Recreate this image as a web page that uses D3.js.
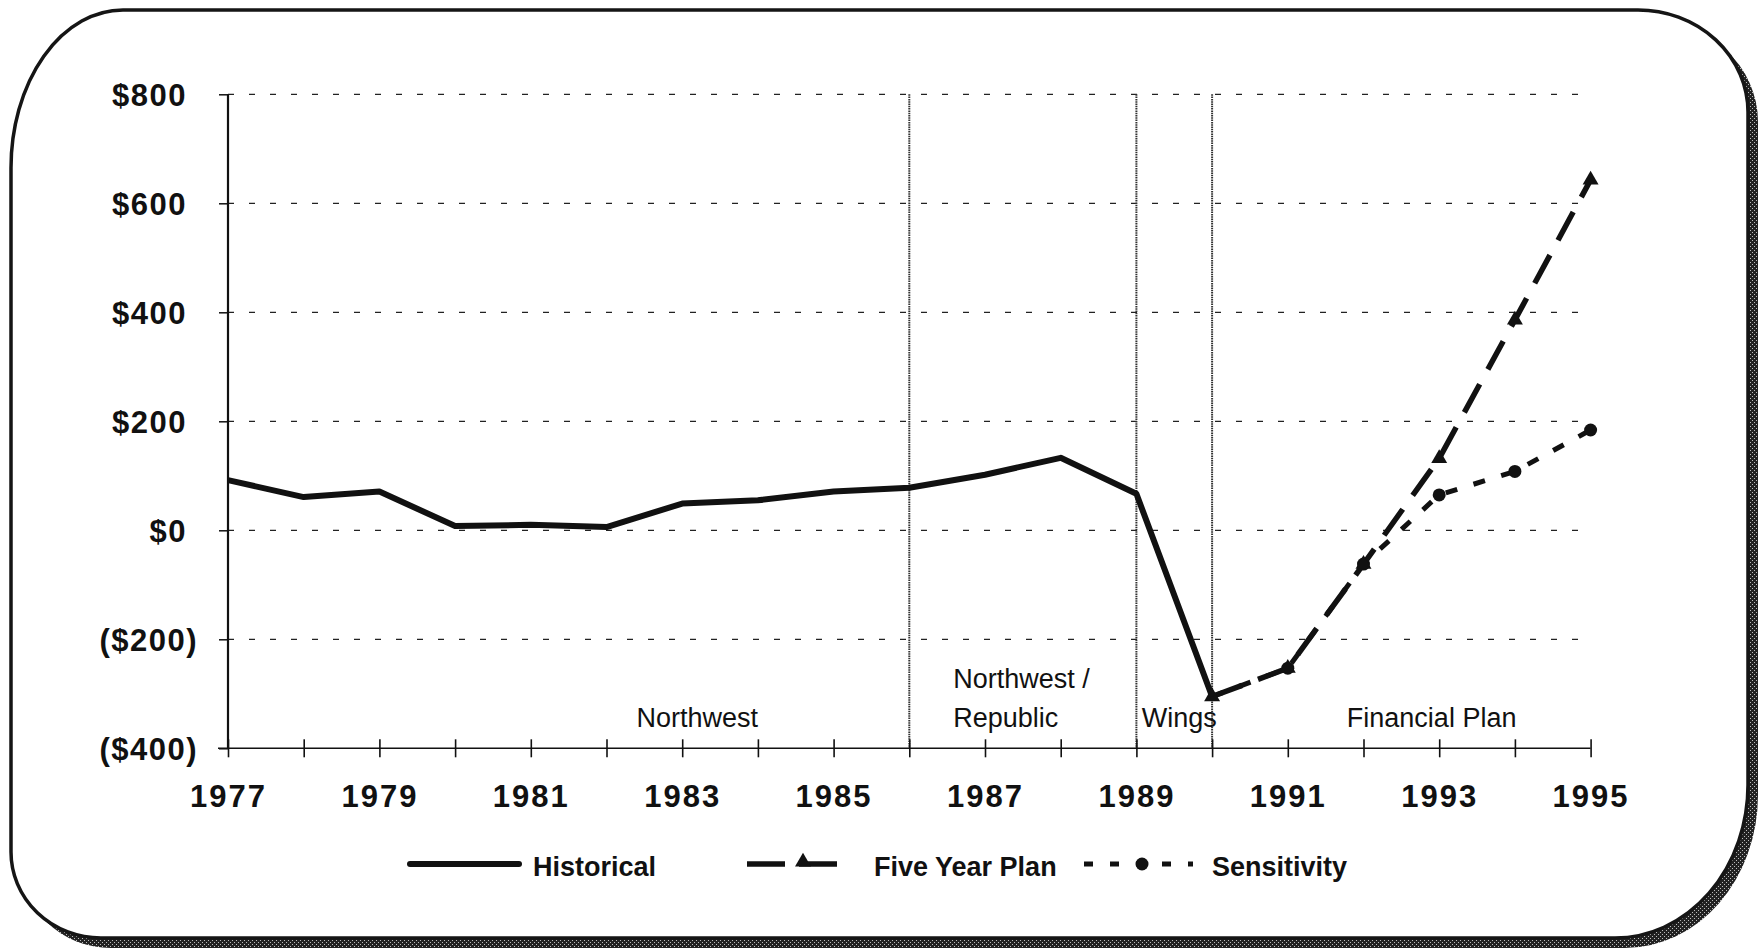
<!DOCTYPE html>
<html>
<head>
<meta charset="utf-8">
<script src="https://cdn.jsdelivr.net/npm/d3@7"></script>
<style>
  body { margin: 0; background: #fff; }
  svg { display: block; font-family: "Liberation Sans", Arial, sans-serif; }
</style>
</head>
<body>
<svg></svg>
<script>
const width = 1759;
const height = 948;

// data (millions of dollars)
const years = [1977, 1978, 1979, 1980, 1981, 1982, 1983, 1984, 1985, 1986, 1987, 1988, 1989, 1990, 1991, 1992, 1993, 1994, 1995];
const yearLabels = [1977, 1979, 1981, 1983, 1985, 1987, 1989, 1991, 1993, 1995];
const yTicks = [-400, -200, 0, 200, 400, 600, 800];

const historicalYears = [1977, 1978, 1979, 1980, 1981, 1982, 1983, 1984, 1985, 1986, 1987, 1988, 1989, 1990];
const historical = [92, 61, 71, 8, 10, 6, 49, 55, 71, 78, 102, 133, 67, -305];

const planYears = [1990, 1991, 1992, 1993, 1994, 1995];
const fiveYearPlan = [-305, -253, -62, 132, 386, 643];
const sensitivity = [-305, -253, -62, 65, 108, 184];

// ownership periods: separators and labels
const separators = [1986, 1989, 1990];
const periods = [
  { lines: ["Northwest"], year: 1983.2, anchor: "middle" },
  { lines: ["Northwest /", "Republic"], year: 1986.58, anchor: "start" },
  { lines: ["Wings"], year: 1989.07, anchor: "start" },
  { lines: ["Financial Plan"], year: 1992.9, anchor: "middle" }
];

const svg = d3.select("svg")
    .attr("width", width)
    .attr("height", height);

// frame with hatched drop shadow
const defs = svg.append("defs");
const pat = defs.append("pattern")
    .attr("id", "hatch")
    .attr("width", 4)
    .attr("height", 4)
    .attr("patternUnits", "userSpaceOnUse");
pat.append("rect").attr("width", 4).attr("height", 4).attr("fill", "#222");
pat.append("rect").attr("x", 0).attr("y", 0).attr("width", 1).attr("height", 1).attr("fill", "#bbb");
pat.append("rect").attr("x", 2).attr("y", 2).attr("width", 1).attr("height", 1).attr("fill", "#bbb");

function framePath(x0, y0, x1, y1) {
  const tl = [112, 158], tr = [110, 102], br = [133, 153], bl = [90, 86];
  return `M${x0 + tl[0]},${y0} H${x1 - tr[0]} A${tr[0]},${tr[1]} 0 0 1 ${x1},${y0 + tr[1]}`
    + ` V${y1 - br[1]} A${br[0]},${br[1]} 0 0 1 ${x1 - br[0]},${y1}`
    + ` H${x0 + bl[0]} A${bl[0]},${bl[1]} 0 0 1 ${x0},${y1 - bl[1]}`
    + ` V${y0 + tl[1]} A${tl[0]},${tl[1]} 0 0 1 ${x0 + tl[0]},${y0} Z`;
}

svg.append("path")
    .attr("d", framePath(11, 10, 1748, 938))
    .attr("transform", "translate(10, 10)")
    .attr("fill", "url(#hatch)");

svg.append("path")
    .attr("d", framePath(11, 10, 1748, 938))
    .attr("fill", "#fff")
    .attr("stroke", "#151515")
    .attr("stroke-width", 3.5);

const x = d3.scaleLinear()
    .domain([1977, 1995])
    .range([228, 1590.6]);

const y = d3.scaleLinear()
    .domain([-400, 800])
    .range([748.3, 94.3]);

// horizontal dashed grid
svg.append("g")
    .selectAll("line")
    .data(yTicks.filter(d => d > -400))
    .join("line")
    .attr("x1", x(1977))
    .attr("x2", x(1995))
    .attr("y1", d => y(d))
    .attr("y2", d => y(d))
    .attr("stroke", "#222")
    .attr("stroke-width", 1.3)
    .attr("stroke-dasharray", "6,15");

// period separators
svg.append("g")
    .selectAll("line")
    .data(separators)
    .join("line")
    .attr("x1", d => x(d))
    .attr("x2", d => x(d))
    .attr("y1", y(800))
    .attr("y2", y(-400))
    .attr("stroke", "#333")
    .attr("stroke-width", 2)
    .attr("stroke-dasharray", "1.5,0.8");

// y axis
const fmt = v => v < 0 ? `($${-v})` : `$${v}`;
const yAxis = d3.axisLeft(y)
    .tickValues(yTicks)
    .tickSize(9)
    .tickFormat(fmt);

const gy = svg.append("g")
    .attr("transform", `translate(${x(1977)}, 0)`)
    .call(yAxis);
gy.select(".domain").attr("stroke", "#111").attr("stroke-width", 2.2).attr("d", `M0,${y(800)}V${y(-400)}`);
gy.selectAll(".tick line").attr("stroke", "#111").attr("stroke-width", 1.5);
gy.selectAll(".tick text")
    .attr("x", d => d < 0 ? -30 : -41)
    .attr("dy", "0.36em")
    .attr("font-size", 31)
    .attr("font-weight", "bold")
    .attr("letter-spacing", 1.5)
    .attr("fill", "#111");

// x axis
const xAxis = d3.axisBottom(x)
    .tickValues(years)
    .tickSize(9)
    .tickFormat(d => yearLabels.includes(d) ? d : "");

const gx = svg.append("g")
    .attr("transform", `translate(0, ${y(-400)})`)
    .call(xAxis);
gx.select(".domain").attr("stroke", "#111").attr("stroke-width", 1.6).attr("d", `M${x(1977) - 10},0H${x(1995)}`);
gx.selectAll(".tick line").attr("y1", -9).attr("y2", 9).attr("stroke", "#111").attr("stroke-width", 1.6);
gx.selectAll(".tick text")
    .attr("y", 59)
    .attr("dy", 0)
    .attr("font-size", 31)
    .attr("font-weight", "bold")
    .attr("letter-spacing", 2)
    .attr("fill", "#111");

// period labels
const pl = svg.append("g")
    .selectAll("text")
    .data(periods)
    .join("text")
    .attr("x", d => x(d.year))
    .attr("text-anchor", d => d.anchor)
    .attr("font-size", 27)
    .attr("fill", "#111");
pl.selectAll("tspan")
    .data(d => d.lines.map((t, i, a) => ({ t, row: i - a.length + 1, x: x(d.year) })))
    .join("tspan")
    .attr("x", d => d.x)
    .attr("y", d => 727 + d.row * 39)
    .text(d => d.t);

// series
const line = d3.line()
    .x(d => x(d[0]))
    .y(d => y(d[1]));

const sensPts = planYears.map((yr, i) => [yr, sensitivity[i]]);
const planPts = planYears.map((yr, i) => [yr, fiveYearPlan[i]]);
const histPts = historicalYears.map((yr, i) => [yr, historical[i]]);

svg.append("path")
    .attr("d", line(sensPts))
    .attr("fill", "none")
    .attr("stroke", "#111")
    .attr("stroke-width", 5)
    .attr("stroke-dasharray", "12,17");

svg.append("g")
    .selectAll("circle")
    .data(sensPts.slice(1))
    .join("circle")
    .attr("cx", d => x(d[0]))
    .attr("cy", d => y(d[1]))
    .attr("r", 6.5)
    .attr("fill", "#111");

svg.append("path")
    .attr("d", line(planPts))
    .attr("fill", "none")
    .attr("stroke", "#111")
    .attr("stroke-width", 5.5)
    .attr("stroke-dasharray", "32,17");

const tri = d3.symbol().type(d3.symbolTriangle).size(110);
svg.append("g")
    .selectAll("path")
    .data(planPts)
    .join("path")
    .attr("d", tri)
    .attr("transform", d => `translate(${x(d[0])}, ${y(d[1])})`)
    .attr("fill", "#111");

svg.append("path")
    .attr("d", line(histPts))
    .attr("fill", "none")
    .attr("stroke", "#111")
    .attr("stroke-width", 6)
    .attr("stroke-linejoin", "round");

// legend
const legend = svg.append("g").attr("transform", "translate(0, 864)");
const legendText = (lx, t) => legend.append("text")
    .attr("x", lx)
    .attr("y", 12)
    .attr("font-size", 27)
    .attr("font-weight", "bold")
    .attr("fill", "#111")
    .text(t);

legend.append("line")
    .attr("x1", 410).attr("x2", 519)
    .attr("stroke", "#111").attr("stroke-width", 6).attr("stroke-linecap", "round");
legendText(533, "Historical");

legend.append("line")
    .attr("x1", 747).attr("x2", 845)
    .attr("stroke", "#111").attr("stroke-width", 5.5)
    .attr("stroke-dasharray", "38,14");
legend.append("path").attr("d", tri).attr("transform", "translate(803, -2)").attr("fill", "#111");
legendText(874, "Five Year Plan");

legend.append("line")
    .attr("x1", 1084).attr("x2", 1193)
    .attr("stroke", "#111").attr("stroke-width", 5)
    .attr("stroke-dasharray", "9,17");
legend.append("circle").attr("cx", 1142).attr("r", 6.5).attr("fill", "#111");
legendText(1212, "Sensitivity");
</script>
</body>
</html>
